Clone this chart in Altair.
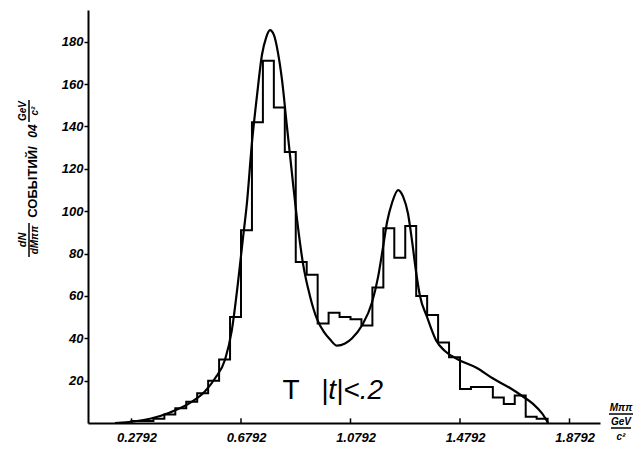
import altair as alt
import pandas as pd

# ---- data ----
bin_start = 0.2792
bin_width = 0.04
counts = [1, 1, 2, 4, 7, 10, 14, 20, 30, 50,
          91, 142, 171, 149, 128, 76, 70, 47, 52, 50,
          49, 46, 64, 92, 78, 93, 60, 51, 38, 31,
          16, 17, 17, 12, 9, 13, 3, 2]

curve_x = [0.219, 0.347, 0.420, 0.493, 0.548, 0.584, 0.621, 0.646, 0.668, 0.687,
           0.701, 0.719, 0.738, 0.756, 0.771, 0.785, 0.800, 0.814, 0.829, 0.847,
           0.866, 0.884, 0.906, 0.931, 0.957, 0.982, 1.004, 1.030, 1.059, 1.085,
           1.121, 1.158, 1.180, 1.198, 1.213, 1.231, 1.253, 1.271, 1.289, 1.304,
           1.318, 1.333, 1.359, 1.392, 1.424, 1.472, 1.541, 1.600, 1.662, 1.709,
           1.746, 1.779, 1.801]
curve_y = [0, 2, 5, 9.5, 15, 21, 30, 44, 66, 88,
           104, 132, 155, 174, 182, 185.5, 183, 175, 162, 140,
           117, 96, 75, 60, 49, 43, 39.5, 36.5, 37.5, 40,
           46, 57, 69, 83, 95, 104, 110, 107, 99, 86,
           72, 60, 50, 39, 34, 30, 26, 21, 16.5, 12.5,
           9, 4.5, 0]

x_ticks = [0.2792, 0.6792, 1.0792, 1.4792, 1.8792]
y_ticks = [20, 40, 60, 80, 100, 120, 140, 160, 180]

# ---- tables ----
edges = [round(bin_start + bin_width * i, 4) for i in range(len(counts) + 1)]
hist_df = pd.DataFrame({
    "x": [bin_start] + edges,
    "y": [0] + counts + [0],
    "o": list(range(len(counts) + 2)),
})
curve_df = pd.DataFrame({"x": curve_x, "y": curve_y, "o": list(range(len(curve_x)))})
tick_df = pd.DataFrame({"x": x_ticks, "y": [0] * len(x_ticks), "y2": [2.2] * len(x_ticks)})
one = pd.DataFrame({"a": [0]})

xscale = alt.Scale(domain=[0.1203, 1.9906], nice=False, zero=False)
yscale = alt.Scale(domain=[0, 195], nice=False)

lab = dict(labelFont="Liberation Sans", labelFontWeight="bold", labelFontStyle="italic",
           labelFontSize=13, labelColor="black")

xaxis = alt.Axis(values=x_ticks, format=".4f", ticks=False, tickSize=0, labelPadding=8,
                 labelOffset=5, labelFlush=False, domainColor="black", domainWidth=2,
                 grid=False, title=None, **lab)
yaxis = alt.Axis(values=y_ticks, format="d", tickSize=4, tickWidth=1.5, tickColor="black",
                 labelPadding=1, domainColor="black", domainWidth=2, grid=False,
                 title=None, **lab)

hist = alt.Chart(hist_df).mark_line(interpolate="step-after", color="black", strokeWidth=2).encode(
    x=alt.X("x:Q", scale=xscale, axis=xaxis),
    y=alt.Y("y:Q", scale=yscale, axis=yaxis),
    order="o:Q",
)

curve = alt.Chart(curve_df).mark_line(interpolate="monotone", color="black", strokeWidth=2.2).encode(
    x=alt.X("x:Q", scale=xscale),
    y=alt.Y("y:Q", scale=yscale),
    order="o:Q",
)

xt = alt.Chart(tick_df).mark_rule(color="black", strokeWidth=1.5).encode(
    x=alt.X("x:Q", scale=xscale), y=alt.Y("y:Q", scale=yscale), y2="y2:Q")


def txt(s, x, y, size=11, angle=0, weight="bold", style="italic", font="Liberation Sans"):
    return alt.Chart(one).mark_text(
        text=s, fontSize=size, angle=angle, fontWeight=weight, fontStyle=style,
        font=font, color="black", align="center", baseline="middle"
    ).encode(x=alt.value(x), y=alt.value(y))


def bar(x1, x2, y1, y2):
    return alt.Chart(one).mark_rule(color="black", strokeWidth=1.5).encode(
        x=alt.value(x1), x2=alt.value(x2), y=alt.value(y1), y2=alt.value(y2))


annots = [
    # y-axis title (rotated, stacked fractions)
    txt("dN", -65, 230, size=11, angle=270),
    bar(-59, -59, 213, 247),
    txt("dMππ", -53, 230, size=10, angle=270),
    txt("СОБЫТИЙ/", -55, 172, size=13, angle=270, style="normal"),
    txt("04", -55, 121, size=12, angle=270),
    txt("GeV", -65, 101, size=10, angle=270),
    bar(-59, -59, 90, 112),
    txt("c²", -53, 101, size=10, angle=270),
    # x-axis title (stacked fraction on the right)
    txt("Mππ", 533, 398, size=10),
    bar(521, 545, 404, 404),
    txt("GeV", 533, 412, size=10),
    bar(523, 543, 418, 418),
    txt("c²", 533, 427, size=10),
    # annotation
    txt("T", 203, 381, size=28, weight="normal", style="normal"),
    txt("|t|<.2", 264, 381, size=28, weight="normal", style="italic"),
]

chart = alt.layer(hist, curve, xt, *annots).properties(
    width=512, height=413, background="white",
    autosize=alt.AutoSizeParams(type="none"),
    padding={"left": 80, "top": 2, "right": 35, "bottom": 20},
).configure_view(stroke=None)

chart.save("out.html", embed_options={"renderer": "svg", "actions": False})
